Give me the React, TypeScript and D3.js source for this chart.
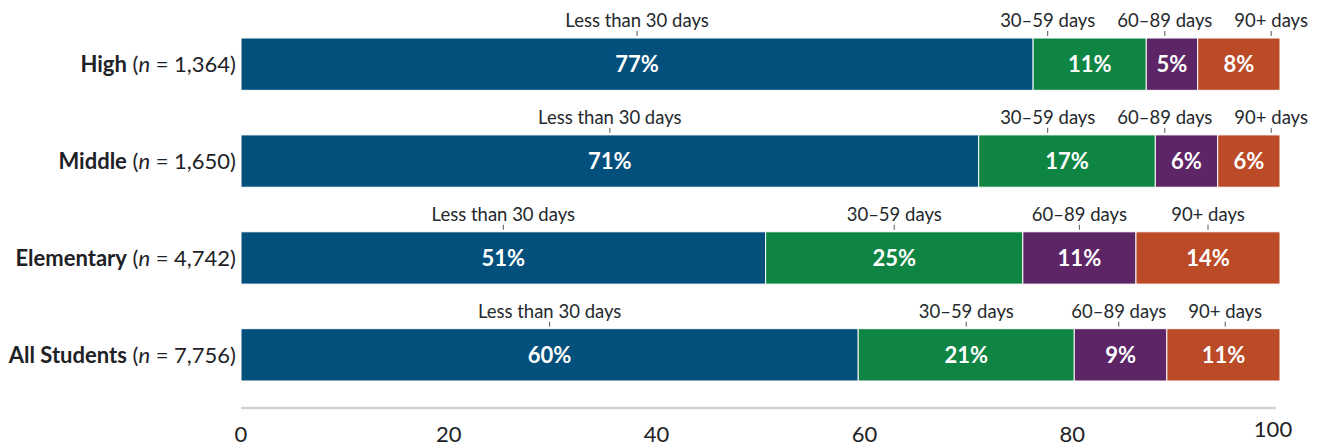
import React, { useEffect, useRef } from "react";
import * as d3 from "d3";

const categories = ["High", "Middle", "Elementary", "All Students"];
const sampleSizes = ["1,364", "1,650", "4,742", "7,756"];
const seriesNames = ["Less than 30 days", "30–59 days", "60–89 days", "90+ days"];
const lessThan30 = [77, 71, 51, 60];
const days30to59 = [11, 17, 25, 21];
const days60to89 = [5, 6, 11, 9];
const days90plus = [8, 6, 14, 11];
const seriesColors = ["#04507d", "#0e8543", "#5d2466", "#bb4a27"];
const xTicks = [0, 20, 40, 60, 80, 100];

const W = 1318;
const H = 447;
const FONT = "Lato, 'Open Sans', sans-serif";

export default function App() {
  const ref = useRef<SVGSVGElement>(null);

  useEffect(() => {
    document.body.style.margin = "0";
    const svg = d3.select(ref.current);
    svg.selectAll("*").remove();

    const x = d3.scaleLinear().domain([0, 100]).range([241, 1280]);
    const y = d3.scaleBand<string>().domain(categories).range([38, 381]).paddingInner(0.46).paddingOuter(0);
    const series = [lessThan30, days30to59, days60to89, days90plus];

    categories.forEach((cat, ci) => {
      const vals = series.map((s) => s[ci]);
      const total = d3.sum(vals);
      const norm = vals.map((v) => (v / total) * 100);
      const starts = d3.cumsum([0, ...norm]);
      const y0 = y(cat)!;
      const bh = y.bandwidth();
      const cy = y0 + bh / 2;
      const g = svg.append("g");

      norm.forEach((v, si) => {
        g.append("rect")
          .attr("x", x(starts[si]))
          .attr("y", y0)
          .attr("width", x(starts[si] + v) - x(starts[si]))
          .attr("height", bh)
          .attr("fill", seriesColors[si])
          .attr("stroke", "#fff")
          .attr("stroke-width", 1);
        g.append("text")
          .attr("x", x(starts[si] + v / 2))
          .attr("y", cy + 8)
          .attr("text-anchor", "middle")
          .attr("font-family", FONT)
          .attr("font-weight", 700)
          .attr("font-size", 22)
          .attr("fill", "#fff")
          .text(`${vals[si]}%`);
      });

      const labels = norm.map((v, si) =>
        g.append("text")
          .attr("text-anchor", "middle")
          .attr("font-family", FONT)
          .attr("font-size", 18.5)
          .attr("fill", "#25292d")
          .attr("y", y0 - 11)
          .text(seriesNames[si])
      );
      const widths = labels.map((l) => (l.node() as SVGTextElement).getComputedTextLength());
      const pos = norm.map((v, si) => x(starts[si] + v / 2));
      const gap = 22;
      const maxRight = 1308;
      for (let k = 0; k < 200; k++) {
        for (let i = 0; i < pos.length - 1; i++) {
          const ov = pos[i] + widths[i] / 2 + gap - (pos[i + 1] - widths[i + 1] / 2);
          if (ov > 0) {
            pos[i] -= ov / 2;
            pos[i + 1] += ov / 2;
          }
        }
        const last = pos.length - 1;
        if (pos[last] + widths[last] / 2 > maxRight) pos[last] = maxRight - widths[last] / 2;
      }
      labels.forEach((l, i) => {
        l.attr("x", pos[i]);
        g.append("line")
          .attr("x1", pos[i])
          .attr("x2", pos[i])
          .attr("y1", y0 - 7)
          .attr("y2", y0 - 2)
          .attr("stroke", "#555")
          .attr("stroke-width", 1);
      });

      const t = g.append("text")
        .attr("x", 236)
        .attr("y", cy + 8)
        .attr("text-anchor", "end")
        .attr("font-family", FONT)
        .attr("font-size", 22)
        .attr("fill", "#1e2226");
      t.append("tspan").attr("font-weight", 700).text(cat);
      t.append("tspan").text(" (");
      t.append("tspan").attr("font-style", "italic").text("n");
      t.append("tspan").text(` = ${sampleSizes[ci]})`);
    });

    svg.append("line")
      .attr("x1", x(0))
      .attr("x2", x(100) - 4)
      .attr("y1", 408)
      .attr("y2", 408)
      .attr("stroke", "#d0d3d6")
      .attr("stroke-width", 2.5);
    xTicks.forEach((tv, i) => {
      const isLast = i === xTicks.length - 1;
      svg.append("text")
        .attr("x", x(tv) - (isLast ? 7 : 0))
        .attr("y", isLast ? 437 : 442)
        .attr("text-anchor", "middle")
        .attr("font-family", FONT)
        .attr("font-size", 22)
        .attr("fill", "#1e2226")
        .text(String(tv));
    });
  }, []);

  return <svg ref={ref} width={W} height={H} style={{ display: "block" }} />;
}
